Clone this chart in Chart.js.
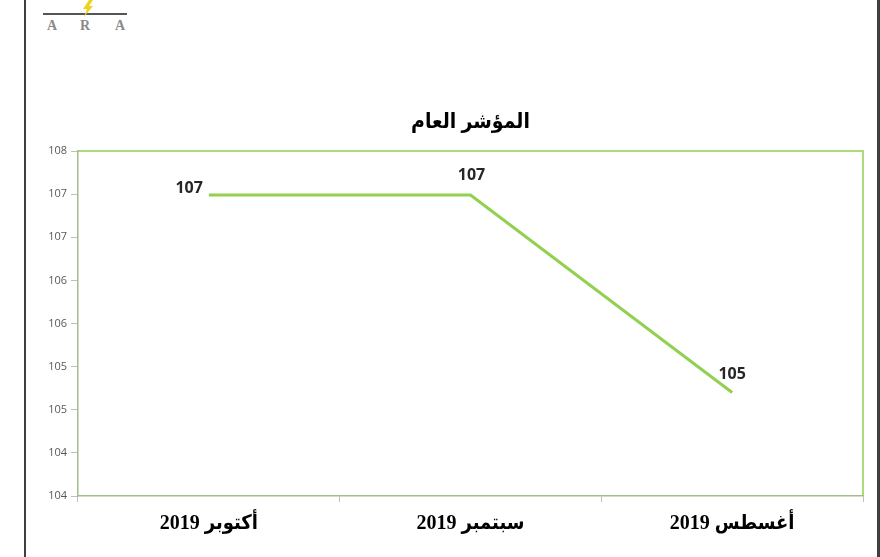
<!DOCTYPE html>
<html>
<head>
<meta charset="utf-8">
<script src="https://cdn.jsdelivr.net/npm/chart.js@4/dist/chart.umd.min.js"></script>
<style>
  html, body { margin: 0; padding: 0; background: #fff; }
  #wrap { position: relative; width: 880px; height: 557px; overflow: hidden; }
  #c { position: absolute; left: 0; top: 0; }
  .vborder { position: absolute; top: 0; width: 2px; height: 557px; background: #3f3f3f; }
  #logo-line { position: absolute; left: 43px; top: 13px; width: 84px; height: 2px; background: #555; }
  #logo-text { position: absolute; left: 45px; top: 18px; font: bold 14px "Liberation Serif", serif; color: #8a8a8a; }
  #logo-text span { position: absolute; top: 0; }
  #bolt { position: absolute; left: 81px; top: 0px; }
</style>
</head>
<body>
<div id="wrap">
  <div class="vborder" style="left:24px"></div>
  <div class="vborder" style="left:877px;width:3px"></div>
  <div id="logo-line"></div>
  <svg id="bolt" width="13" height="17" viewBox="0 0 13 17"><polygon points="8,0 2,9 6,9 3,17 12,6 8,6 12,0" fill="#f2d21a"/></svg>
  <div id="logo-text"><span style="left:2px">A</span><span style="left:35px">R</span><span style="left:70px">A</span></div>
  <canvas id="c" width="880" height="557"></canvas>
</div>
<script>
// ---- data ----
const chartTitle = 'المؤشر العام';
const categories = ['أكتوبر 2019', 'سبتمبر 2019', 'أغسطس 2019'];
const seriesValues = [107.49, 107.49, 105.2];
const valueLabels = ['107', '107', '105'];
const yTickLabels = ['104', '104', '105', '105', '106', '106', '107', '107', '108'];
const yMin = 104, yMax = 108, yStep = 0.5;

// ---- label placement (styling) ----
const labelPlacement = [
  { align: 'right', dx: -6, dy: -7 },
  { align: 'center', dx: 1, dy: -20 },
  { align: 'center', dx: 0, dy: -18 }
];

const serifArabic = '"Liberation Serif", "DejaVu Sans Condensed", "DejaVu Sans", serif';

const decorPlugin = {
  id: 'decor',
  beforeDatasetsDraw(chart) {
    const { ctx, chartArea: a } = chart;
    ctx.save();
    ctx.strokeStyle = '#92D050';
    ctx.lineWidth = 1.5;
    ctx.beginPath();
    ctx.moveTo(a.left, a.top);
    ctx.lineTo(a.right, a.top);
    ctx.lineTo(a.right, a.bottom);
    ctx.stroke();
    ctx.restore();
  },
  afterDatasetsDraw(chart) {
    const { ctx, chartArea: a } = chart;
    ctx.save();
    // title
    ctx.fillStyle = '#000';
    ctx.font = 'bold 21px ' + serifArabic;
    ctx.textAlign = 'center';
    ctx.textBaseline = 'middle';
    ctx.fillText(chartTitle, (a.left + a.right) / 2, 123);
    // data labels
    const meta = chart.getDatasetMeta(0);
    ctx.font = 'bold 16px "Open Sans", sans-serif';
    ctx.fillStyle = '#262626';
    meta.data.forEach((pt, i) => {
      const p = labelPlacement[i];
      ctx.textAlign = p.align;
      ctx.fillText(valueLabels[i], pt.x + p.dx, pt.y + p.dy);
    });
    ctx.restore();
  }
};

new Chart(document.getElementById('c'), {
  type: 'line',
  data: {
    labels: categories,
    datasets: [{
      data: seriesValues,
      borderColor: '#92D050',
      borderWidth: 3,
      pointRadius: 0,
      tension: 0,
      fill: false
    }]
  },
  options: {
    responsive: false,
    animation: false,
    events: [],
    layout: { padding: { left: 0, top: 151, right: 17, bottom: 0 } },
    plugins: { legend: { display: false }, tooltip: { enabled: false }, title: { display: false } },
    scales: {
      x: {
        offset: true,
        grid: { offset: true, drawOnChartArea: false, drawTicks: true, tickLength: 6, color: '#BFBFBF', lineWidth: 1 },
        border: { display: true, color: '#A3BE8C', width: 1.5 },
        ticks: {
          color: '#000',
          font: { family: serifArabic, size: 20, weight: 'bold' },
          padding: 10,
          maxRotation: 0,
          autoSkip: false
        },
        afterFit(scale) { scale.height = 61; }
      },
      y: {
        min: yMin,
        max: yMax,
        grid: { drawOnChartArea: false, drawTicks: true, tickLength: 7, color: '#BFBFBF' },
        border: { display: true, color: '#A3BE8C', width: 1.5 },
        ticks: {
          stepSize: yStep,
          color: '#595959',
          font: { family: '"Open Sans", sans-serif', size: 11 },
          padding: 4,
          callback(value, index) { return yTickLabels[index]; }
        },
        afterFit(scale) { scale.width = 78; }
      }
    }
  },
  plugins: [decorPlugin]
});
</script>
</body>
</html>
